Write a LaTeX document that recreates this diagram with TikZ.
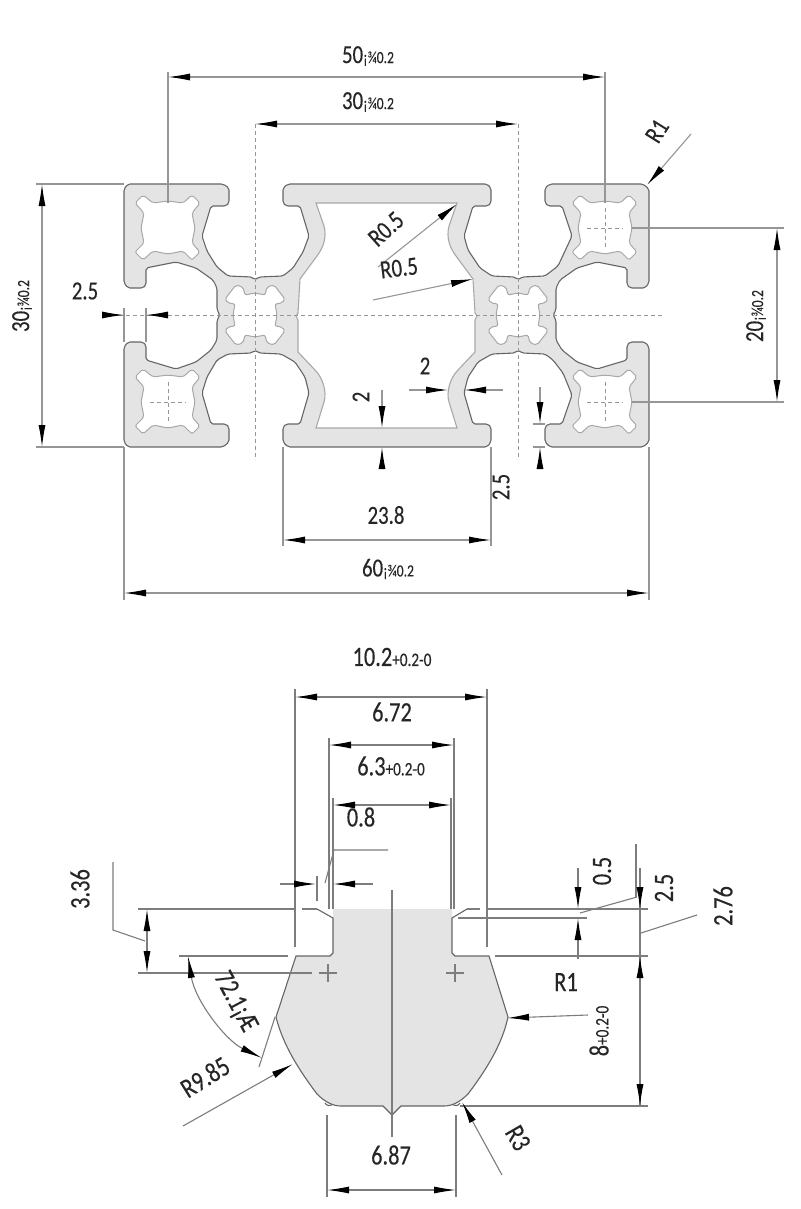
\documentclass[tikz,border=0pt]{standalone}
\usepackage{fontspec}
\setmainfont[FakeStretch=0.8,FakeBold=0.25]{Carlito}
\usetikzlibrary{arrows.meta}
\definecolor{edgegray}{HTML}{666666}
\definecolor{slotgray}{HTML}{A8A8A8}
\definecolor{profgray}{HTML}{969696}
\definecolor{nutgray}{HTML}{7D7D7D}
\colorlet{dimgray}{profgray}
\definecolor{bodygray}{HTML}{E4E4E4}
\definecolor{labelink}{HTML}{262626}
\newcommand{\tol}[1]{{\fontsize{17}{18}\selectfont #1}}
\newcommand{\toln}[1]{{\fontsize{19}{20}\selectfont #1}}
\tikzset{
  dimtext/.style={text=labelink,inner sep=0pt,font=\fontsize{26}{28}\selectfont},
  nuttext/.style={text=labelink,inner sep=0pt,font=\fontsize{28}{30}\selectfont},
  dimline/.style={draw=dimgray,line width=1.1pt},
  dimboth/.style={dimline,{Latex[black,length=22pt,width=7pt]}-{Latex[black,length=22pt,width=7pt]}},
  dimtip/.style={dimline,-{Latex[black,length=22pt,width=7pt]}},
  extline/.style={draw=dimgray,line width=1.1pt},
  outline/.style={draw=edgegray,line width=1.1pt},
  centerdash/.style={draw=dimgray,line width=.8pt,dash pattern=on 4pt off 3pt},
  cornerslot/.pic={
    \path[fill=white,draw=slotgray,line width=1pt,rounded corners=2pt]
      (-33,-25)--(-25,-33)--(-15,-25)--(0,-27)--(15,-25)--(24,-33)--(32,-25)--(24,-15)--(27,0)--(24,15)
      --(32,24)--(24,32)--(15,23)--(0,26)--(-15,23)--(-25,32)--(-33,24)--(-24,15)--(-27,0)--(-24,-15)--cycle;
  },
  middleslot/.pic={
    \path[fill=white,draw=slotgray,line width=1pt,rounded corners=2pt]
      (0,-22)--(-10,-20)--(-12,-28)--(-19,-30)--(-30,-16)--(-27,-12)--(-20,-11)--(-22,0)
      --(-20,11)--(-27,12)--(-30,16)--(-19,30)--(-12,28)--(-10,20)--(0,22)
      --(10,20)--(12,28)--(19,30)--(30,16)--(27,12)--(20,11)--(22,0)
      --(20,-11)--(27,-12)--(30,-16)--(19,-30)--(12,-28)--(10,-20)--cycle;
  }
}
\begin{document}
\begin{tikzpicture}[x=1pt,y=-1pt]
  \useasboundingbox[fill=white] (0,0) rectangle (800,1209);
  % profile
  \path[fill=bodygray,outline,rounded corners=2pt]
    (124,189)--(128,184)--(223,184)--(229,188)--(229,203)--(226,206)--(211,206)--(202,236)--(207,251)--(217,267)--(228,276)--(252,277)--(255,280)--(259,277)--(283,276)--(293,268)--(303,252)--(309,236)--(300,206)--(286,206)--(283,203)--(283,188)--(288,184)
    --(487,184)--(491,188)--(491,203)--(488,206)--(473,206)--(464,236)--(468,250)--(480,268)--(492,276)--(515,277)--(518,280)--(522,277)--(545,276)--(558,266)--(572,236)--(562,206)--(548,206)--(545,203)--(545,188)--(550,184)
    --(643,184)--(649,189)--(649,283)--(645,288)--(630,288)--(627,285)--(627,268)--(597,262)--(577,268)--(560,280)--(556,288)--(556,310)--(553,315)--(556,320)--(556,340)--(562,350)--(577,362)--(597,369)--(627,360)--(627,345)--(630,342)--(645,342)--(649,347)
    --(649,442)--(643,447)--(550,447)--(545,442)--(545,427)--(548,424)--(562,424)--(572,395)--(563,373)--(553,360)--(545,354)--(522,353)--(518,350)--(515,353)--(492,354)--(478,362)--(468,377)--(464,393)--(473,424)--(488,424)--(491,427)--(491,442)--(487,447)
    --(288,447)--(283,442)--(283,427)--(286,424)--(300,424)--(309,393)--(305,377)--(295,362)--(281,354)--(259,353)--(255,350)--(252,353)--(228,354)--(217,360)--(207,377)--(202,393)--(211,424)--(226,424)--(229,427)--(229,442)--(223,447)
    --(128,447)--(124,442)--(124,347)--(128,342)--(143,342)--(146,345)--(146,360)--(176,369)--(196,362)--(211,350)--(217,340)--(217,320)--(220,315)--(217,310)--(217,288)--(213,280)--(196,268)--(176,262)--(146,268)--(146,285)--(143,288)--(128,288)--(124,283)--cycle;
  % cavity
  \path[fill=white,draw=slotgray,line width=1.1pt]
    (316,203)--(457,203)--(449,226) .. controls (446,238) and (450,248) .. (456,256)--(473,279)--(475,313)--(477,316)--(475,320)--(475,352)--(458,370) .. controls (450,378) and (446,392) .. (449,402)--(457,428)
    --(316,428)--(324,402) .. controls (327,392) and (323,378) .. (315,370)--(298,352)--(298,320)--(296,316)--(298,313)--(300,279)--(317,256) .. controls (323,248) and (327,238) .. (324,226)--cycle;
  \foreach \cx/\cy in {168/228,168/402,605/228,605/402}
    \pic at (\cx,\cy) {cornerslot};
  \foreach \cx in {255,518}
    \pic at (\cx,315) {middleslot};
  % center lines
  \draw[centerdash] (105,315) -- (662,315);
  \draw[centerdash] (255,124) -- (255,460);
  \draw[centerdash] (518,124) -- (518,460);
  \foreach \cx/\cy in {168/402,605/228,605/402}{
    \draw[centerdash] (\cx-18,\cy) -- (\cx+18,\cy);
    \draw[centerdash] (\cx,\cy-20) -- (\cx,\cy+20);
  }
  % profile dimensions
  \draw[extline] (168,72) -- (168,203);
  \draw[extline] (605,72) -- (605,203);
  \draw[dimboth] (168,77) -- (605,77);
  \node[dimtext] at (368,56) (wide50) {50\tol{¡¾0.2}};
  \draw[dimboth] (255,124) -- (518,124);
  \node[dimtext] at (368,102) (wide30) {30\tol{¡¾0.2}};
  \draw[dimtip] (691,134) -- (647,185);
  \node[dimtext,rotate=58] at (657,131) (rone) {R1};
  \draw[extline] (36,184) -- (124,184);
  \draw[extline] (36,447) -- (124,447);
  \draw[dimboth] (42,184) -- (42,447);
  \node[dimtext,rotate=90] at (22,306) (high30) {30\tol{¡¾0.2}};
  \draw[extline] (124,308) -- (124,342);
  \draw[extline] (146,308) -- (146,342);
  \draw[dimtip] (105,315) -- (124,315);
  \draw[dimtip] (166,315) -- (146,315);
  \node[dimtext] at (85,291) (lip25) {2.5};
  \draw[dimtip] (378,267) -- (457,204);
  \node[dimtext,rotate=42] at (386,229) (rhalfa) {R0.5};
  \draw[dimtip] (373,300) -- (473,279);
  \node[dimtext,rotate=7] at (399,268) (rhalfb) {R0.5};
  \draw[extline] (632,228) -- (784,228);
  \draw[extline] (632,402) -- (784,402);
  \draw[dimboth] (777,228) -- (777,402);
  \node[dimtext,rotate=90] at (756,316) (high20) {20\tol{¡¾0.2}};
  \draw[dimtip] (409,390) -- (448,390);
  \draw[dimtip] (503,390) -- (464,390);
  \node[dimtext] at (425,366) (wall2a) {2};
  \draw[dimtip] (382,390) -- (382,428);
  \draw[dimtip] (382,466) -- (382,447);
  \node[dimtext,rotate=90] at (361,397) (wall2b) {2};
  \draw[extline] (533,424) -- (545,424);
  \draw[extline] (533,447) -- (545,447);
  \draw[dimtip] (540,387) -- (540,424);
  \draw[dimtip] (540,466) -- (540,447);
  \node[dimtext,rotate=90] at (501,487) (lip25b) {2.5};
  \draw[extline] (283,447) -- (283,546);
  \draw[extline] (491,447) -- (491,546);
  \draw[dimboth] (283,540) -- (491,540);
  \node[dimtext] at (386,515) (wide238) {23.8};
  \draw[extline] (124,447) -- (124,600);
  \draw[extline] (649,447) -- (649,600);
  \draw[dimboth] (124,593) -- (649,593);
  \node[dimtext] at (388,569) (wide60) {60\tol{¡¾0.2}};
  % slot nut
  \colorlet{dimgray}{nutgray}
  \path[fill=bodygray] (333,909) -- (452,909) -- (452,953) -- (455,956) -- (489,956) -- (508,1017) .. controls (502,1045) and (486,1070) .. (468,1094) .. controls (460,1102) and (452,1106) .. (444,1106)
    -- (401,1106) -- (392,1115) -- (383,1106) -- (341,1106) .. controls (333,1106) and (325,1102) .. (317,1094) .. controls (299,1070) and (283,1045) .. (276,1017) -- (296,956) -- (330,956) -- (333,953) -- cycle;
  \draw[outline] (317,909) -- (333,918) -- (333,953) -- (330,956) -- (296,956) -- (276,1017) .. controls (283,1045) and (299,1070) .. (317,1094) .. controls (325,1102) and (333,1106) .. (341,1106)
    -- (383,1106) -- (392,1115) -- (401,1106) -- (444,1106) .. controls (452,1106) and (460,1102) .. (468,1094) .. controls (486,1070) and (502,1045) .. (508,1017) -- (489,956) -- (455,956) -- (452,953) -- (452,918) -- (467,909);
  \draw[outline] (325,1103) .. controls (327,1106) and (330,1106) .. (332,1105);
  \draw[outline] (453,1105) .. controls (456,1106) and (458,1106) .. (460,1103);
  \draw[extline] (328,964) -- (328,982);
  \draw[extline] (319,973) -- (337,973);
  \draw[extline] (455,964) -- (455,982);
  \draw[extline] (446,973) -- (464,973);
  % nut dimensions
  \draw[extline] (295,689) -- (295,947);
  \draw[extline] (487,689) -- (487,947);
  \draw[dimboth] (295,697) -- (487,697);
  \node[nuttext] at (392,657) (nut102) {10.2\toln{+0.2-0}};
  \node[nuttext] at (392,712) (nut672) {6.72};
  \draw[extline] (329,738) -- (329,909);
  \draw[extline] (454,738) -- (454,909);
  \draw[dimboth] (329,745) -- (454,745);
  \node[nuttext] at (391,766) (nut63) {6.3\toln{+0.2-0}};
  \draw[extline] (333,798) -- (333,909);
  \draw[extline] (451,798) -- (451,909);
  \draw[dimboth] (333,805) -- (451,805);
  \node[nuttext] at (361,817) (nut08) {0.8};
  \draw[dimtip] (280,884) -- (316,884);
  \draw[dimtip] (373,884) -- (333,884);
  \draw[extline] (317,876) -- (317,901);
  \draw[extline] (325,883) -- (334,850) -- (388,850);
  \draw[extline] (392,890) -- (392,1137);
  \draw[extline] (138,909) -- (295,909);
  \draw[extline] (302,909) -- (317,909);
  \draw[extline] (179,956) -- (288,956);
  \draw[extline] (138,973) -- (312,973);
  \draw[dimtip] (147,941) -- (147,909);
  \draw[dimtip] (147,941) -- (147,973);
  \draw[extline] (113,862) -- (113,930) -- (145,941);
  \node[nuttext,rotate=90] at (80,889) (nut336) {3.36};
  \draw[dimboth] (188,956) .. controls (195,1000) and (225,1040) .. (262,1058);
  \draw[extline] (275,1017) -- (259,1067);
  \node[nuttext,rotate=-62] at (235,1002) (nut721) {72.1¡Æ};
  \draw[dimtip] (183,1126) -- (293,1064);
  \node[nuttext,rotate=32] at (205,1077) (nut985) {R9.85};
  \draw[extline] (467,909) -- (480,909);
  \draw[extline] (487,909) -- (648,909);
  \draw[extline] (458,918) -- (587,918);
  \draw[extline] (495,956) -- (648,956);
  \draw[extline] (460,1106) -- (648,1106);
  \draw[dimtip] (578,868) -- (578,909);
  \draw[dimtip] (578,959) -- (578,918);
  \node[nuttext,rotate=90] at (602,871) (nut05) {0.5};
  \draw[extline] (580,913) -- (637,897);
  \draw[extline] (636,844) -- (636,897);
  \draw[extline] (640,868) -- (640,1106);
  \draw[dimtip] (640,885) -- (640,909);
  \draw[dimtip] (640,980) -- (640,956);
  \draw[dimtip] (640,1080) -- (640,1106);
  \node[nuttext,rotate=90] at (664,888) (nut25) {2.5};
  \draw[extline] (641,933) -- (697,915);
  \node[nuttext,rotate=90] at (723,906) (nut276) {2.76};
  \node[nuttext] at (566,982) (nutr1) {R1};
  \draw[dimtip] (588,1015) -- (507,1018);
  \node[nuttext,rotate=90] at (599,1031) (nut8) {8\toln{+0.2-0}};
  \draw[dimtip] (502,1175) -- (462,1102);
  \node[nuttext,rotate=-60] at (518,1138) (nutr3) {R3};
  \draw[extline] (327,1115) -- (327,1197);
  \draw[extline] (456,1115) -- (456,1197);
  \draw[dimboth] (327,1190) -- (456,1190);
  \node[nuttext] at (391,1155) (nut687) {6.87};
\end{tikzpicture}
\end{document}
